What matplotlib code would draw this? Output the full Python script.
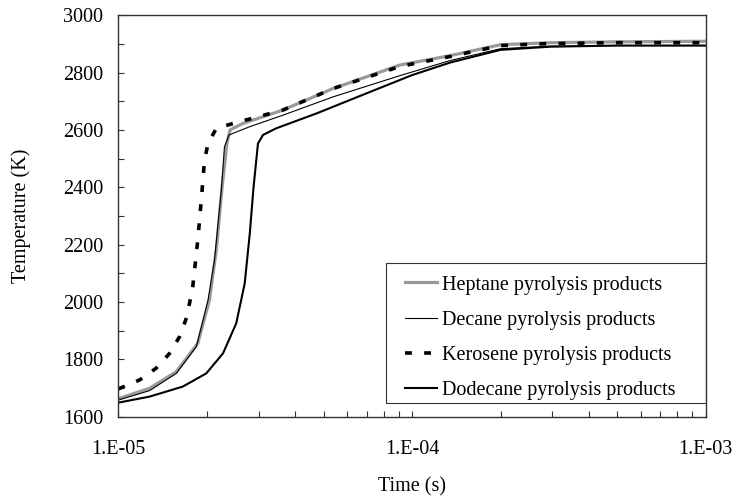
import numpy as np
import matplotlib
matplotlib.use('Agg')
import matplotlib.pyplot as plt
import matplotlib.ticker as ticker
from matplotlib.patches import Rectangle

plt.rcParams['font.family'] = ['Liberation Serif', 'DejaVu Serif']
plt.rcParams['font.size'] = 14.5

# temps (K) vs time (s)
t_heptane = [1.00e-5, 1.276e-5, 1.574e-5, 1.862e-5, 2.04e-5, 2.153e-5, 2.254e-5, 2.339e-5,
             2.40e-5, 2.65e-5, 3.63e-5, 5.38e-5, 9.08e-5, 1.35e-4, 2.0e-4, 2.95e-4, 5.0e-4, 1.0e-3]
T_heptane = [1663, 1699, 1757, 1856, 2007, 2181, 2402, 2553,
             2601, 2623, 2670, 2745, 2827, 2860, 2898, 2905, 2908, 2910]

t_decane = [1.00e-5, 1.276e-5, 1.574e-5, 1.841e-5, 2.018e-5, 2.123e-5, 2.239e-5, 2.296e-5,
            2.377e-5, 2.8e-5, 3.63e-5, 5.38e-5, 9.08e-5, 1.35e-4, 2.0e-4, 2.95e-4, 5.0e-4, 1.0e-3]
T_decane = [1658, 1691, 1751, 1844, 2007, 2147, 2391, 2542,
            2583, 2612, 2652, 2716, 2790, 2843, 2884, 2893, 2895, 2895]

t_kerosene = [1.00e-5, 1.18e-5, 1.343e-5, 1.493e-5, 1.614e-5, 1.71e-5, 1.79e-5, 1.862e-5,
              1.914e-5, 1.963e-5, 2.018e-5, 2.153e-5, 2.455e-5, 3.63e-5, 5.38e-5, 9.08e-5,
              1.35e-4, 2.0e-4, 2.95e-4, 5.0e-4, 1.0e-3]
T_kerosene = [1697, 1728, 1769, 1821, 1879, 1949, 2053, 2216,
              2356, 2495, 2553, 2606, 2623, 2670, 2745, 2822,
              2857, 2895, 2902, 2905, 2905]

t_dodecane = [1.00e-5, 1.276e-5, 1.656e-5, 1.99e-5, 2.27e-5, 2.518e-5, 2.69e-5, 2.8e-5,
              2.884e-5, 2.985e-5, 3.105e-5, 3.44e-5, 4.72e-5, 6.98e-5, 1.0e-4, 1.35e-4,
              2.0e-4, 2.95e-4, 5.0e-4, 1.0e-3]
T_dodecane = [1649, 1670, 1705, 1751, 1821, 1926, 2065, 2240,
              2402, 2553, 2583, 2606, 2658, 2728, 2792, 2836,
              2880, 2891, 2895, 2895]

fig = plt.figure(figsize=(7.36, 4.99), dpi=100)
ax = fig.add_axes([0.161, 0.165, 0.798, 0.804])

ax.plot(t_heptane, T_heptane, color='#999999', lw=2.3, label='Heptane pyrolysis products')
ax.plot(t_decane, T_decane, color='black', lw=0.8, label='Decane pyrolysis products')
ax.plot(t_kerosene, T_kerosene, color='black', lw=2.6, dashes=(1.9, 3.4),
        dash_capstyle='butt', label='Kerosene pyrolysis products')
ax.plot(t_dodecane, T_dodecane, color='black', lw=1.5, label='Dodecane pyrolysis products')

ax.set_xscale('log')
ax.set_xlim(1e-5, 1e-3)
ax.set_ylim(1600, 3000)
ax.yaxis.set_major_locator(ticker.MultipleLocator(200))
ax.yaxis.set_minor_locator(ticker.MultipleLocator(100))
ax.xaxis.set_major_formatter(ticker.FuncFormatter(lambda v, p: '1.E-%02d' % round(-np.log10(v))))
ax.xaxis.set_minor_formatter(ticker.NullFormatter())
ax.tick_params(axis='both', which='both', direction='in', length=4, width=0.8, color='#333333')
ax.tick_params(axis='x', which='both', pad=17)
ax.tick_params(axis='y', which='both', pad=11)
for s in ax.spines.values():
    s.set_color('#333333')
    s.set_linewidth(1.0)

ax.set_xlabel('Time (s)', labelpad=13)
ax.set_ylabel('Temperature (K)', labelpad=23)

# legend box drawn separately (wider than its content, like the original)
ax.add_patch(Rectangle((0.455, 0.035), 0.545, 0.347, transform=ax.transAxes,
                       fill=False, edgecolor='#333333', lw=0.8, zorder=4))
leg = ax.legend(loc='upper left', bbox_to_anchor=(0.488, 0.352), borderaxespad=0,
                borderpad=0, handlelength=1.6, handletextpad=0.25, labelspacing=0.8,
                frameon=False)

plt.savefig('out.png', dpi=100)
